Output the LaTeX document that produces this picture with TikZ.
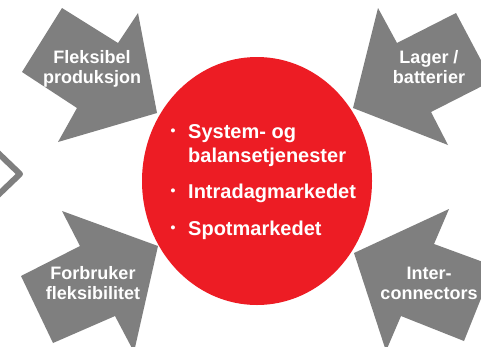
\documentclass[tikz,border=0pt]{standalone}
\usepackage{fontspec}
\setmainfont{Liberation Sans}
\definecolor{arrowgray}{HTML}{7F7F7F}
\definecolor{hubred}{HTML}{ED1C24}
\begin{document}
\begin{tikzpicture}[x=1pt,y=-1pt,
  blockarrow/.style={fill=arrowgray, draw=none},
  armlabel/.style={text=white, font=\fontsize{18}{20}\selectfont\bfseries, inner sep=0pt, anchor=base},
  hublabel/.style={text=white, font=\fontsize{20}{23}\selectfont\bfseries, inner sep=0pt, anchor=base west},
  hubbullet/.style={text=white, font=\fontsize{14}{16}\selectfont\bfseries, inner sep=0pt, anchor=base}]
\useasboundingbox (0,0) rectangle (481,346);
\fill[white] (0,0) rectangle (481,346);
\clip (0,0) rectangle (481,346);
% hub
\fill[hubred] (257,181) ellipse [x radius=115, y radius=124];
% block arrows
\fill[blockarrow] (62,8) -- (118,43) -- (138,13) -- (157,113) -- (58,142) -- (77,108) -- (22,72) -- cycle;
\fill[blockarrow] (353,108) -- (378,8) -- (397,43) -- (456,13) -- (492,81) -- (431,112) -- (448,145) -- cycle;
\fill[blockarrow] (21,276) -- (80,246) -- (62,211) -- (158,246) -- (134,352) -- (115,316) -- (53,343) -- cycle;
\fill[blockarrow] (354,253) -- (449,209) -- (434,244) -- (494,266) -- (464,341) -- (401,316) -- (386,351) -- cycle;
% partial chevron at left edge
\draw[arrowgray, line width=6pt, line join=round] (-4,151) -- (20,174) -- (-4,197);
% arrow labels
\node[armlabel] (flex1) at (92,63) {Fleksibel};
\node[armlabel] (flex2) at (92,83) {produksjon};
\node[armlabel] (lager1) at (429,63) {Lager /};
\node[armlabel] (lager2) at (429,83) {batterier};
\node[armlabel] (forb1) at (93,279) {Forbruker};
\node[armlabel] (forb2) at (93,299) {fleksibilitet};
\node[armlabel] (inter1) at (429,279) {Inter-};
\node[armlabel] (inter2) at (429,299) {connectors};
% hub text
\node[hubbullet] (b1) at (173,135) {•};
\node[hubbullet] (b2) at (173,195) {•};
\node[hubbullet] (b3) at (173,232) {•};
\node[hublabel] (h1) at (188,138) {System- og};
\node[hublabel] (h2) at (188,162) {balansetjenester};
\node[hublabel] (h3) at (188,198) {Intradagmarkedet};
\node[hublabel] (h4) at (188,235) {Spotmarkedet};
\end{tikzpicture}
\end{document}
